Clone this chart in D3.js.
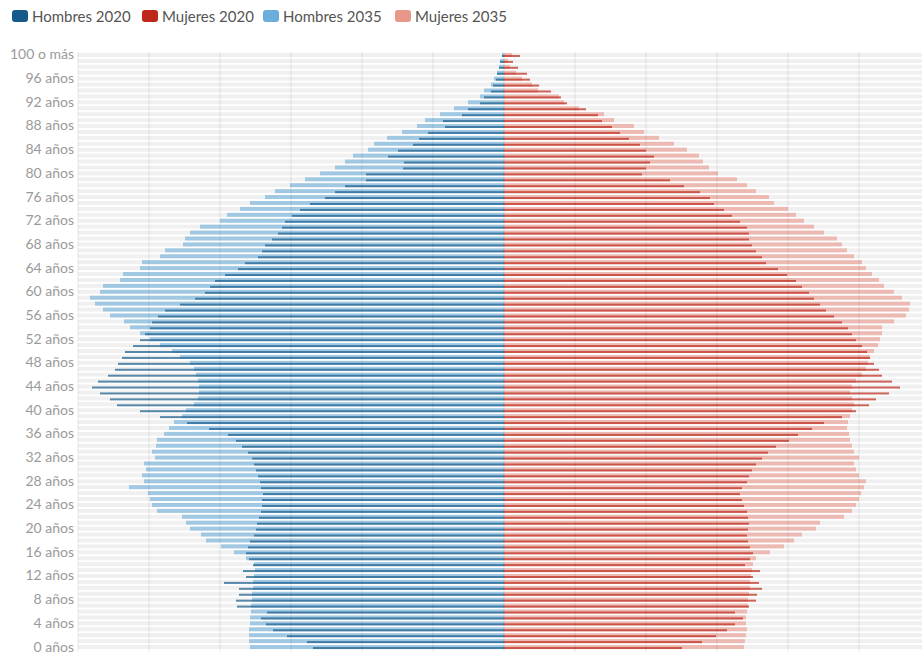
<!DOCTYPE html>
<html>
<head>
<meta charset="utf-8">
<script src="https://cdn.jsdelivr.net/npm/d3@7"></script>
<style>
  body { margin: 0; background: #fff; font-family: Lato, "Noto Sans", sans-serif; }
  .y.axis text { fill: #9a9a9a; font-size: 14px; font-family: Lato, "Noto Sans", sans-serif; }
  .leyenda text { fill: #555; font-size: 15px; }
</style>
</head>
<body>
<div class="piramide"></div>
<script>
// edades 0..100 (100 = "100 o más")
var edades = d3.range(0, 101);
var etiquetasEdad = [0, 4, 8, 12, 16, 20, 24, 28, 32, 36, 40, 44, 48, 52, 56, 60, 64, 68, 72, 76, 80, 84, 88, 92, 96, 100];
var textoEtiquetas = ["0 años", "4 años", "8 años", "12 años", "16 años", "20 años", "24 años", "28 años", "32 años", "36 años",
  "40 años", "44 años", "48 años", "52 años", "56 años", "60 años", "64 años", "68 años", "72 años", "76 años",
  "80 años", "84 años", "88 años", "92 años", "96 años", "100 o más"];

var series = ["Hombres 2020", "Mujeres 2020", "Hombres 2035", "Mujeres 2035"];
var colores = ["#155a8a", "#bd2819", "#6aaedb", "#e9968b"];

// miles de personas por edad
var hombres2020 = [191,197,217,231,238,243,237,267,268,265,
  265,280,258,261,251,255,258,256,254,250,
  248,247,245,243,242,242,241,243,244,246,
  248,250,252,256,262,268,276,295,317,344,
  364,387,394,404,412,406,396,389,386,382,
  379,371,364,359,354,352,346,339,324,309,
  299,294,289,279,266,259,246,242,239,232,
  226,222,219,212,204,194,179,169,159,138,
  138,101,100,116,106,91,85,76,59,61,
  42,36,24,20,13,11,8,7,5,4,
  2];
var hombres2035 = [254,255,255,255,254,254,253,253,252,252,
  251,251,250,249,250,258,270,283,298,303,
  314,318,322,347,352,354,356,375,360,362,
  358,360,349,352,348,347,340,335,330,322,
  318,310,306,305,305,306,308,310,314,324,
  332,344,354,364,374,380,394,401,409,414,
  404,401,384,381,364,362,344,339,321,319,
  314,304,284,277,264,254,239,229,214,199,
  184,169,159,151,136,130,117,102,87,79,
  64,50,36,24,20,13,10,7,5,4,
  2];
var mujeres2020 = [178,198,212,223,231,239,231,245,252,253,
  258,255,249,256,241,246,249,246,244,243,
  244,245,244,243,240,238,236,238,243,245,
  248,252,258,264,272,285,294,308,320,338,
  352,365,372,385,396,388,378,375,370,366,
  363,358,352,348,344,338,330,322,316,310,
  305,298,292,283,274,262,258,252,248,245,
  245,243,236,228,220,210,206,196,180,166,
  138,142,146,150,142,136,125,116,108,98,
  94,82,63,57,47,35,26,23,14,9,
  16];
var mujeres2035 = [240,241,242,243,242,242,243,244,244,245,
  246,246,247,248,249,252,266,280,290,298,
  312,316,340,348,352,355,357,360,362,355,
  352,350,355,350,348,346,345,343,344,346,
  348,350,348,346,348,352,358,362,364,366,
  370,374,376,378,378,390,402,405,406,398,
  390,380,375,368,362,358,350,343,338,333,
  320,310,300,292,284,270,265,252,243,233,
  214,205,199,195,183,170,155,140,130,110,
  100,75,60,55,34,28,18,12,6,4,
  8];

var escalaMax = 426;
var pasoRejilla = 71;

document.addEventListener('DOMContentLoaded', function () {
  piramideViz();
});

function piramideViz() {
  var width = 922;
  var height = 652;
  var magicLeft = 78;

  var svg = d3.select('div.piramide').append('svg')
      .attr('width', width)
      .attr('height', height);

  var xScale = d3.scaleLinear()
      .domain([-escalaMax, escalaMax])
      .range([magicLeft, magicLeft + 2 * (504 - magicLeft)]);

  var yScale = d3.scaleBand()
      .domain(edades.slice().reverse())
      .range([52, 650]);

  var barHeight = 4;
  var offset = (yScale.bandwidth() - barHeight) / 2;

  // filas de fondo
  svg.append('g').selectAll('rect')
    .data(edades)
    .enter().append('rect')
    .attr('x', xScale(-escalaMax))
    .attr('width', xScale(escalaMax) - xScale(-escalaMax))
    .attr('y', d => yScale(d) + offset)
    .attr('height', barHeight)
    .attr('fill', '#f0f0f0');

  function barras(valores, lado, color, opacidad, arriba, alto) {
    svg.append('g').selectAll('rect')
      .data(edades)
      .enter().append('rect')
      .attr('x', d => lado < 0 ? xScale(-valores[d]) : xScale(0))
      .attr('width', d => lado < 0 ? xScale(0) - xScale(-valores[d]) : xScale(valores[d]) - xScale(0))
      .attr('y', d => yScale(d) + offset + arriba)
      .attr('height', alto)
      .attr('fill', color)
      .attr('fill-opacity', opacidad);
  }

  barras(hombres2035, -1, colores[2], 0.6, 0, barHeight);
  barras(mujeres2035, 1, colores[3], 0.6, 0, barHeight);
  barras(hombres2020, -1, colores[0], 0.7, barHeight / 2, barHeight / 2);
  barras(mujeres2020, 1, colores[1], 0.7, barHeight / 2, barHeight / 2);

  // rejilla vertical
  svg.append('g').selectAll('line')
    .data(d3.range(-escalaMax, escalaMax + 1, pasoRejilla))
    .enter().append('line')
    .attr('x1', d => xScale(d))
    .attr('x2', d => xScale(d))
    .attr('y1', 52)
    .attr('y2', 652)
    .attr('stroke', 'rgba(0,0,0,0.045)')
    .attr('stroke-width', 2);

  var yAxis = d3.axisLeft(yScale)
      .tickValues(etiquetasEdad)
      .tickSize(0)
      .tickPadding(4)
      .tickFormat(d => textoEtiquetas[etiquetasEdad.indexOf(d)]);

  svg.append('g')
    .attr('class', 'y axis')
    .attr('transform', 'translate(' + magicLeft + ',0)')
    .call(yAxis)
    .call(g => g.select('.domain').remove());

  // leyenda
  var leyendaX = [12, 142, 263, 395];
  var leyenda = svg.append('g').attr('class', 'leyenda');
  series.forEach(function (s, i) {
    leyenda.append('rect')
      .attr('x', leyendaX[i])
      .attr('y', 10)
      .attr('width', 16)
      .attr('height', 12)
      .attr('rx', 3)
      .attr('fill', colores[i]);
    leyenda.append('text')
      .attr('x', leyendaX[i] + 20)
      .attr('y', 21.5)
      .text(s);
  });
}
</script>
</body>
</html>
